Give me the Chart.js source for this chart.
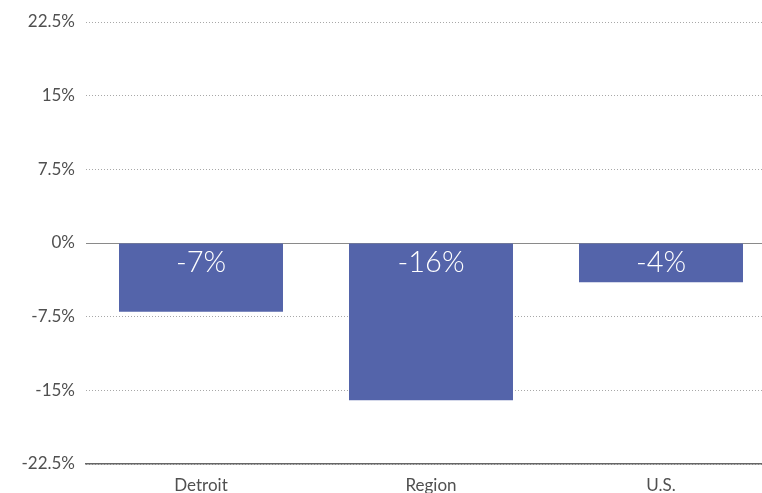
<!DOCTYPE html>
<html>
<head>
<meta charset="utf-8">
<script src="https://cdn.jsdelivr.net/npm/chart.js@4/dist/chart.umd.min.js"></script>
<style>
  html, body { margin: 0; padding: 0; background: #fff; overflow: hidden; }
  #wrap { width: 776px; height: 493px; position: relative; }
</style>
</head>
<body>
<div id="wrap"><canvas id="chart"></canvas></div>
<script>
// values
const places = ['Detroit', 'Region', 'U.S.'];
const change = [-7, -16, -4];
const yTicks = [-22.5, -15, -7.5, 0, 7.5, 15, 22.5];

// white value labels sitting inside the top of each bar
const barLabels = {
    id: 'barLabels',
    afterDatasetsDraw(chart) {
        const ctx = chart.ctx;
        const meta = chart.getDatasetMeta(0);
        const zero = chart.scales.y.getPixelForValue(0);
        ctx.save();
        ctx.fillStyle = '#ffffff';
        ctx.font = '300 29px Lato';
        ctx.textAlign = 'center';
        ctx.textBaseline = 'middle';
        meta.data.forEach(function(bar, i) {
            ctx.fillText(change[i] + '%', bar.x, zero + 20);
        });
        ctx.restore();
    }
};

document.addEventListener("DOMContentLoaded", function() {
    const ctx = document.getElementById('chart').getContext('2d');
    new Chart(ctx, {
        type: 'bar',
        data: {
            labels: places,
            datasets: [{
                data: change,
                backgroundColor: '#5464aa',
                borderWidth: 0,
                barPercentage: 1,
                categoryPercentage: 0.713
            }]
        },
        options: {
            responsive: true,
            maintainAspectRatio: false,
            animation: false,
            layout: { padding: { top: 22, right: 0, bottom: 0, left: 0 } },
            plugins: {
                legend: { display: false },
                tooltip: { enabled: false }
            },
            scales: {
                x: {
                    afterFit: function(scale) { scale.height = 29; },
                    grid: { display: false },
                    border: { display: true, color: '#666', width: 1.5 },
                    ticks: {
                        color: '#505050',
                        font: { family: 'Lato', size: 17 },
                        padding: 3
                    }
                },
                y: {
                    min: yTicks[0],
                    max: yTicks[yTicks.length - 1],
                    afterFit: function(scale) { scale.width = 86; },
                    afterBuildTicks: function(scale) {
                        scale.ticks = yTicks.map(v => ({ value: v }));
                    },
                    grid: {
                        drawTicks: false,
                        color: c => c.tick && c.tick.value === 0 ? '#8a8a8a' : '#a8a8a8',
                        lineWidth: 1
                    },
                    border: {
                        display: false,
                        dash: c => c.tick && c.tick.value === 0 ? [] : [1, 2]
                    },
                    ticks: {
                        color: '#505050',
                        font: { family: 'Lato', size: 17 },
                        padding: 11,
                        callback: v => v + '%'
                    }
                }
            }
        },
        plugins: [barLabels]
    });
});
</script>
</body>
</html>
